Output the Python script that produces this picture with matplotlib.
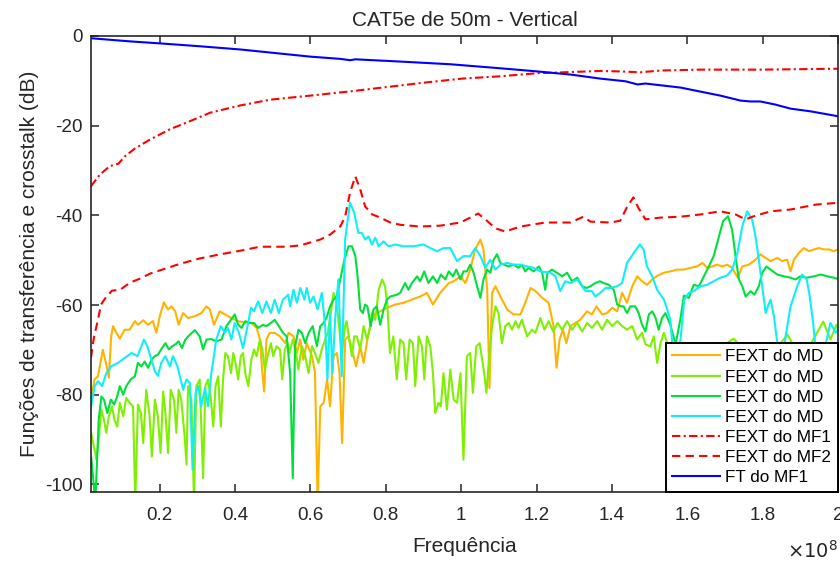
"""
Funcoes de transferencia e crosstalk - CAT5e de 50m (Vertical)
"""

import matplotlib.pyplot as plt
from matplotlib.ticker import FuncFormatter, MultipleLocator

#---------------------------------------------------------------------------------------------------
# Data (frequency in MHz, magnitude in dB)
#---------------------------------------------------------------------------------------------------

# FT do MF1 (blue)
f_ft_mf1 = [1.75, 12.1, 20.1, 30.8, 41.3, 54.1, 59.9, 67.9, 70.5, 71.9, 83.8, 97.1, 110.4, 120.2,
            129.0, 136.9, 143.6, 146.8, 148.9, 158.2, 163.5, 168.8, 174.1, 176.8, 179.4, 183.4,
            187.4, 192.7, 200.0]
ft_mf1 = [-0.5, -1.2, -1.65, -2.3, -3.0, -4.1, -4.6, -5.1, -5.4, -5.2, -5.7, -6.3, -7.2, -7.9,
          -8.6, -9.5, -10.1, -10.8, -10.6, -11.5, -12.4, -13.3, -14.4, -14.6, -14.6, -15.3,
          -16.2, -16.8, -17.9]

# FEXT do MF1 (red dash-dot)
f_fext_mf1 = [1.75, 4.1, 6.8, 9.0, 10.8, 13.4, 17.4, 22.7, 28.0, 33.4, 41.3, 49.3, 59.9, 70.0,
              80.1, 90.2, 100.3, 110.1, 120.2, 130.3, 136.9, 142.2, 147.5, 152.9, 163.5, 179.4,
              190.0, 200.0]
fext_mf1 = [-33.5, -30.9, -29.0, -28.5, -26.8, -25.1, -23.1, -20.8, -19.0, -17.1, -15.5, -14.2,
            -13.3, -12.4, -11.4, -10.4, -9.5, -9.0, -8.3, -8.0, -7.8, -7.9, -8.1, -7.7, -7.5,
            -7.5, -7.4, -7.3]

# FEXT do MF2 (red dashed)
f_fext_mf2 = [1.75, 2.55, 3.6, 4.4, 5.7, 7.3, 9.5, 12.1, 14.8, 17.4, 21.4, 25.4, 30.7, 36.0,
              41.3, 46.6, 53.8, 57.3, 62.6, 65.2, 67.9, 69.2, 70.5, 71.9, 73.2, 74.5, 76.4, 78.5,
              81.2, 83.8, 89.1, 94.4, 99.8, 102.4, 104.5, 106.4, 109.1, 111.7, 115.7, 122.3,
              129.0, 132.4, 134.3, 139.6, 142.2, 144.1, 145.7, 147.0, 148.9, 152.9, 158.2,
              163.5, 168.8, 172.8, 175.5, 177.3, 182.1, 187.4, 194.1, 200.0]
fext_mf2 = [-71.7, -67.1, -63.3, -59.9, -58.3, -56.8, -56.6, -55.0, -54.1, -53.0, -51.9, -50.8,
            -49.6, -48.7, -47.9, -47.0, -47.0, -46.7, -45.4, -44.3, -42.5, -40.3, -34.9, -31.3,
            -34.2, -38.0, -39.8, -40.5, -41.6, -42.1, -42.5, -42.3, -41.6, -40.5, -39.6, -40.9,
            -42.9, -43.6, -42.5, -41.6, -41.6, -40.3, -41.4, -41.6, -41.2, -38.0, -36.0, -38.3,
            -40.9, -40.5, -40.3, -39.8, -39.1, -39.8, -40.9, -40.3, -39.1, -38.7, -37.6, -37.2]

# FEXT do MD #1 (orange)
f_md1 = [1.8, 2.7, 3.6, 4.9, 5.7, 6.5, 7.1, 7.6, 8.5, 9.4, 10.7, 12.0, 13.4, 14.2, 15.6, 16.9,
         18.2, 19.1, 20.0, 21.1, 22.2, 23.1, 24.1, 25.0, 26.2, 27.5, 29.3, 31.0, 32.4, 33.3,
         34.4, 35.9, 37.3, 39.0, 40.8, 42.6, 44.3, 45.7, 46.6, 47.2, 47.7, 48.3, 49.2, 50.5,
         51.9, 53.3, 54.2, 55.5, 56.4, 57.3, 58.1, 59.0, 60.4, 61.2, 61.9, 62.6, 63.5, 64.4,
         65.2, 66.1, 67.0, 67.7, 68.4, 69.2, 70.1, 71.0, 72.1, 73.2, 74.1, 75.1, 76.0, 77.2,
         78.5, 80.3, 82.5, 84.7, 86.9, 89.1, 90.9, 92.5, 94.4, 96.7, 98.0, 99.8, 101.1, 102.4,
         103.7, 105.1, 105.9, 106.9, 107.5, 108.2, 109.1, 110.4, 112.2, 113.9, 115.7, 117.0,
         118.4, 119.7, 121.5, 123.2, 124.5, 125.3, 126.1, 127.0, 127.9, 129.0, 130.3, 131.6,
         133.4, 134.7, 135.9, 137.4, 138.7, 140.1, 141.4, 142.7, 144.0, 145.4, 146.7, 148.0,
         149.3, 150.7, 152.0, 153.8, 155.5, 157.3, 159.1, 160.9, 162.6, 164.0, 165.3, 166.6,
         167.9, 169.3, 170.6, 171.9, 173.4, 174.6, 176.3, 178.1, 179.4, 180.8, 182.1, 183.9,
         185.2, 186.5, 187.4, 188.3, 189.6, 190.9, 192.3, 193.6, 194.9, 196.3, 197.6, 198.9,
         200.0]
fext_md1 = [-80.4, -76.6, -75.9, -70.0, -72.9, -76.2, -67.0, -64.7, -66.2, -67.5, -65.5, -65.5,
            -63.6, -64.4, -63.4, -64.4, -63.6, -66.2, -62.5, -59.4, -61.0, -60.3, -61.4, -64.4,
            -61.8, -62.9, -62.5, -61.8, -60.3, -61.0, -64.4, -61.4, -62.1, -62.9, -63.6, -63.9,
            -64.0, -65.1, -67.7, -74.8, -79.3, -67.7, -66.2, -66.2, -67.0, -68.5, -66.2, -67.0,
            -70.7, -67.7, -72.2, -68.5, -71.4, -75.1, -104.0, -82.6, -81.8, -76.6, -82.6, -71.4,
            -70.7, -75.1, -90.8, -67.7, -67.0, -69.9, -73.7, -69.2, -72.9, -67.7, -64.0, -61.8,
            -61.4, -60.6, -59.9, -59.5, -58.8, -58.1, -57.3, -59.9, -57.3, -55.1, -54.7, -53.6,
            -55.1, -52.1, -47.6, -45.4, -47.6, -56.6, -78.5, -57.3, -55.8, -58.1, -61.0, -62.1,
            -62.1, -59.5, -56.2, -56.9, -58.4, -59.5, -64.7, -74.0, -67.7, -65.5, -68.5, -64.7,
            -64.0, -63.3, -61.4, -62.1, -60.3, -62.1, -61.8, -60.6, -61.4, -57.3, -59.5, -55.8,
            -53.6, -54.7, -55.5, -54.3, -53.5, -52.8, -52.5, -52.1, -52.1, -51.7, -51.4, -50.6,
            -51.7, -51.4, -51.0, -51.4, -51.0, -51.7, -53.9, -51.4, -51.0, -49.9, -48.7, -49.5,
            -50.2, -49.5, -50.2, -49.9, -52.5, -49.9, -48.4, -47.3, -48.0, -47.6, -47.3, -47.6,
            -47.6, -48.0, -47.6]

# FEXT do MD #2 (lime)
f_md2 = [1.8, 2.5, 3.2, 3.8, 4.5, 5.2, 5.8, 6.5, 7.3, 8.0, 8.7, 9.4, 10.3, 11.1, 12.0, 12.9,
         13.5, 14.2, 15.0, 15.6, 16.4, 17.3, 17.9, 18.7, 19.5, 20.2, 20.9, 21.5, 22.2, 22.9,
         23.8, 24.4, 25.0, 25.7, 26.6, 27.1, 27.5, 28.4, 29.1, 29.7, 30.6, 31.5, 32.1, 32.8,
         33.5, 34.2, 34.8, 35.5, 36.2, 36.8, 37.4, 38.1, 38.9, 39.5, 40.1, 40.8, 41.5, 42.1,
         42.7, 43.5, 44.3, 45.0, 45.7, 46.6, 47.2, 47.9, 48.8, 49.5, 50.1, 51.0, 51.9, 52.5,
         53.2, 53.9, 54.4, 55.3, 56.2, 56.8, 57.7, 58.6, 59.5, 60.4, 61.2, 62.1, 63.0, 63.9,
         64.6, 65.4, 66.1, 66.8, 67.4, 68.3, 69.2, 69.6, 70.3, 71.0, 71.6, 72.3, 73.2, 74.1,
         75.0, 75.7, 76.3, 77.2, 78.1, 79.0, 79.8, 80.4, 81.1, 82.0, 82.9, 83.8, 84.7, 85.4,
         86.3, 87.2, 87.8, 88.7, 89.6, 90.2, 90.9, 91.8, 92.5, 93.1, 94.0, 94.6, 95.3, 96.2,
         97.1, 98.0, 98.9, 99.8, 100.6, 101.5, 102.4, 103.1, 104.0, 104.9, 106.1, 106.7, 107.5,
         108.2, 109.1, 109.9, 110.8, 111.7, 112.6, 113.5, 114.4, 115.2, 116.1, 117.5, 118.8,
         119.7, 121.0, 122.1, 123.2, 124.4, 125.6, 126.8, 128.1, 129.4, 130.8, 132.1, 133.4,
         134.7, 136.1, 137.4, 138.7, 140.1, 141.4, 142.7, 144.0, 145.4, 146.7, 148.0, 148.9,
         150.2, 151.1, 152.0, 152.9, 153.8, 154.7, 156.9, 160.9, 164.9, 168.8, 172.3, 175.5,
         179.4, 183.4, 186.6, 189.6, 192.7, 196.1, 198.0, 199.6, 200.0]
fext_md2 = [-88.5, -91.5, -94.5, -90.0, -83.3, -85.6, -88.5, -84.8, -82.6, -85.6, -87.1, -81.8,
            -84.8, -80.7, -81.8, -82.6, -104.0, -82.2, -84.1, -90.8, -78.9, -84.8, -93.8, -81.1,
            -84.8, -93.0, -79.3, -84.1, -93.0, -78.9, -81.1, -88.5, -78.9, -81.1, -89.3, -95.6,
            -78.1, -81.1, -104.0, -78.1, -76.6, -98.6, -78.1, -76.6, -80.4, -87.1, -78.1, -75.9,
            -87.1, -76.6, -70.7, -71.4, -75.2, -70.7, -72.9, -76.6, -71.4, -70.7, -75.2, -78.1,
            -72.2, -69.9, -71.4, -67.7, -69.9, -74.4, -70.7, -68.5, -71.4, -69.2, -69.9, -76.6,
            -69.9, -68.5, -70.7, -67.7, -70.7, -74.4, -69.2, -71.4, -75.2, -69.2, -70.7, -72.9,
            -69.9, -67.7, -66.2, -61.8, -57.3, -58.8, -63.3, -70.7, -64.7, -63.6, -67.7, -71.4,
            -67.0, -67.0, -69.9, -64.7, -67.7, -65.5, -61.8, -63.3, -56.6, -54.3, -55.8, -60.3,
            -70.7, -67.0, -76.6, -67.7, -68.5, -76.6, -67.7, -68.5, -78.1, -67.0, -69.2, -76.6,
            -67.0, -69.2, -75.2, -84.1, -81.8, -82.6, -75.2, -83.3, -74.4, -81.1, -81.8, -75.2,
            -94.5, -71.4, -70.7, -79.6, -69.2, -68.5, -75.2, -79.6, -70.7, -64.7, -60.3, -61.8,
            -68.5, -64.7, -64.0, -65.5, -63.6, -65.1, -63.3, -67.0, -65.5, -66.2, -62.9, -65.5,
            -63.6, -65.9, -64.0, -65.5, -63.6, -65.5, -64.0, -65.9, -64.0, -65.1, -63.6, -65.5,
            -63.3, -64.7, -63.6, -64.7, -65.5, -64.7, -67.7, -66.2, -68.8, -69.2, -67.0, -72.9,
            -68.5, -66.2, -68.5, -72.2, -71.1, -70.0, -69.5, -67.5, -70.4, -71.1, -70.0, -66.6,
            -71.1, -68.8, -63.7, -67.7, -64.4, -65.5]

# FEXT do MD #3 (green)
f_md3 = [1.8, 2.9, 3.8, 4.5, 5.2, 6.1, 7.0, 7.9, 8.7, 9.4, 10.3, 11.1, 12.3, 13.4, 14.2, 15.1,
         16.0, 16.9, 17.8, 18.7, 19.5, 20.6, 21.5, 22.4, 23.3, 24.1, 25.0, 25.9, 26.8, 28.0,
         29.3, 30.6, 31.5, 32.4, 33.7, 35.0, 36.4, 37.7, 38.9, 39.9, 40.8, 41.7, 42.7, 43.9,
         45.0, 46.1, 47.4, 48.3, 49.5, 50.5, 51.6, 52.7, 53.7, 54.6, 55.3, 55.9, 56.8, 57.7,
         58.6, 59.5, 60.6, 61.7, 62.6, 63.5, 64.4, 65.2, 66.1, 67.0, 67.9, 69.0, 70.1, 71.0,
         71.9, 72.5, 73.2, 73.9, 74.5, 75.1, 76.0, 76.7, 77.6, 78.5, 79.4, 80.3, 81.2, 82.9,
         83.8, 85.1, 86.0, 86.9, 88.3, 89.1, 90.2, 91.3, 92.5, 93.6, 94.6, 95.8, 96.7, 97.8,
         98.7, 99.8, 100.6, 101.5, 102.4, 103.3, 104.2, 105.1, 105.9, 106.9, 107.7, 108.6,
         109.5, 110.4, 111.3, 112.6, 113.9, 115.2, 116.1, 117.0, 117.9, 119.2, 120.6, 121.5,
         122.3, 122.9, 124.1, 125.4, 126.8, 128.1, 129.4, 130.8, 132.1, 133.2, 134.3, 135.6,
         136.8, 137.8, 139.2, 140.5, 141.4, 142.3, 143.1, 144.0, 144.9, 146.2, 147.1, 148.0,
         148.9, 149.8, 150.7, 151.6, 152.4, 153.3, 154.2, 155.5, 156.9, 158.2, 159.1, 160.4,
         161.7, 163.1, 164.4, 165.7, 167.0, 168.4, 169.5, 170.8, 171.9, 172.8, 173.7, 174.6,
         175.5, 176.8, 177.8, 179.0, 179.9, 181.0, 182.1, 183.9, 185.6, 187.4, 188.7, 190.0,
         191.8, 193.6, 195.4, 197.2, 198.9, 200.0]
fext_md3 = [-93.8, -104.0, -85.6, -80.4, -81.1, -84.1, -81.1, -82.2, -80.4, -78.1, -80.0, -78.1,
            -76.6, -75.9, -72.9, -73.7, -72.6, -74.0, -72.2, -71.4, -71.1, -69.6, -68.5, -69.9,
            -69.2, -68.8, -68.1, -69.6, -67.7, -66.6, -65.6, -67.0, -69.9, -67.7, -67.6, -68.1,
            -67.7, -64.7, -63.3, -62.1, -64.4, -65.1, -63.6, -64.0, -64.0, -65.1, -64.4, -64.7,
            -64.0, -63.3, -64.7, -66.2, -67.0, -75.2, -98.6, -69.2, -65.5, -66.2, -68.5, -66.2,
            -64.7, -69.2, -64.7, -64.0, -62.5, -60.3, -58.8, -58.1, -54.3, -49.9, -46.9, -46.9,
            -49.1, -53.6, -61.0, -61.8, -59.9, -60.3, -64.7, -61.0, -60.3, -64.4, -61.0, -58.8,
            -58.1, -57.7, -57.3, -55.1, -56.6, -55.1, -53.6, -54.7, -52.5, -55.1, -53.6, -55.1,
            -53.2, -54.3, -52.5, -53.6, -52.1, -54.3, -52.5, -52.5, -51.0, -52.8, -55.8, -58.4,
            -54.3, -52.1, -52.8, -49.9, -48.7, -50.6, -51.0, -51.4, -51.0, -51.7, -51.0, -52.5,
            -51.7, -52.5, -51.4, -52.8, -56.6, -52.8, -52.1, -52.8, -53.6, -52.8, -54.7, -53.9,
            -55.8, -56.2, -55.8, -55.1, -54.7, -55.1, -55.5, -56.6, -59.9, -60.3, -60.3, -61.8,
            -60.3, -60.3, -61.8, -64.4, -65.9, -62.1, -61.4, -62.9, -65.5, -62.9, -61.8, -64.4,
            -68.8, -63.0, -57.9, -58.4, -55.5, -55.8, -53.6, -51.4, -49.1, -44.7, -41.3, -40.2,
            -43.2, -49.1, -54.3, -55.8, -58.1, -56.9, -57.7, -55.8, -52.8, -51.4, -52.1, -53.2,
            -53.6, -53.9, -54.3, -53.6, -53.9, -53.6, -53.2, -53.6, -53.9, -54.2]

# FEXT do MD #4 (cyan)
f_md4 = [1.8, 2.7, 3.6, 4.7, 5.8, 7.1, 8.9, 10.7, 12.5, 14.1, 15.1, 15.8, 16.7, 17.8, 18.7,
         19.5, 20.4, 21.5, 22.7, 23.5, 24.7, 26.2, 27.1, 28.0, 28.7, 29.5, 30.2, 31.0, 32.0,
         32.8, 33.7, 35.0, 36.2, 37.3, 38.1, 39.0, 39.9, 41.0, 42.1, 43.3, 44.2, 45.0, 46.1,
         47.2, 48.3, 49.5, 50.5, 51.6, 52.7, 54.1, 54.6, 55.5, 56.4, 57.3, 58.4, 59.0, 59.9,
         60.8, 61.9, 63.0, 63.9, 64.5, 65.2, 65.8, 66.6, 67.4, 68.3, 69.2, 70.5, 71.6, 72.7,
         73.6, 74.5, 75.4, 76.3, 77.2, 78.1, 79.4, 80.7, 82.5, 84.7, 87.4, 90.0, 91.8, 93.6,
         95.3, 97.1, 98.9, 100.6, 102.4, 103.7, 105.1, 106.4, 107.7, 109.1, 110.4, 112.2,
         113.9, 115.7, 117.5, 119.2, 121.0, 123.7, 125.0, 126.3, 127.6, 129.0, 130.8, 133.0,
         134.7, 135.6, 136.9, 138.3, 139.6, 141.4, 142.7, 144.0, 145.8, 147.4, 148.4, 149.3,
         150.7, 152.0, 153.8, 154.7, 155.5, 156.0, 157.2, 159.2, 160.4, 161.7, 163.5, 165.3,
         167.0, 168.8, 170.6, 171.9, 173.3, 174.6, 175.9, 177.2, 178.1, 179.0, 179.9, 180.8,
         181.4, 182.1, 183.0, 183.9, 185.0, 186.1, 187.4, 189.2, 190.5, 191.7, 192.5, 193.4,
         194.0, 195.4, 197.0, 198.0, 199.4, 200.0]
fext_md4 = [-82.6, -78.1, -77.0, -78.1, -75.2, -73.7, -72.9, -71.8, -70.7, -71.4, -69.2, -67.7,
            -69.2, -72.2, -74.8, -75.8, -72.9, -71.4, -73.7, -71.4, -73.7, -78.9, -76.6, -77.4,
            -96.7, -79.6, -78.1, -82.6, -78.5, -82.6, -75.2, -67.7, -64.7, -66.2, -65.1, -67.7,
            -64.0, -66.2, -69.6, -64.7, -60.6, -61.4, -59.2, -61.8, -59.2, -61.8, -58.8, -61.8,
            -58.8, -57.7, -60.3, -56.6, -59.5, -56.2, -58.8, -56.2, -59.5, -58.1, -61.0, -57.3,
            -64.7, -76.6, -61.8, -75.2, -62.5, -54.3, -75.9, -45.4, -37.2, -39.4, -43.9, -43.9,
            -45.4, -44.7, -46.5, -45.0, -46.9, -45.8, -46.9, -46.5, -46.9, -46.9, -46.5, -47.3,
            -48.0, -47.3, -47.3, -50.2, -49.1, -49.1, -47.3, -49.1, -51.7, -49.9, -52.1, -51.0,
            -50.6, -51.0, -51.0, -51.4, -51.7, -52.5, -52.8, -53.6, -56.9, -54.7, -55.1, -54.3,
            -56.9, -56.9, -58.1, -57.3, -56.2, -56.2, -55.8, -55.1, -50.6, -48.4, -46.5, -47.6,
            -51.4, -53.6, -56.6, -58.8, -61.0, -63.3, -68.5, -76.7, -58.8, -57.3, -56.9, -55.8,
            -55.5, -54.7, -53.9, -53.4, -52.1, -48.4, -42.4, -39.1, -40.9, -44.7, -49.9, -55.8,
            -61.8, -60.3, -58.8, -62.5, -68.5, -74.5, -67.0, -60.3, -55.8, -53.2, -54.3, -58.1,
            -64.0, -69.2, -74.5, -67.7, -64.0, -66.2, -65.5]

labels = ['FEXT do MD', 'FEXT do MD', 'FEXT do MD', 'FEXT do MD',
          'FEXT do MF1', 'FEXT do MF2', 'FT do MF1']


#---------------------------------------------------------------------------------------------------
# Plot
#---------------------------------------------------------------------------------------------------

plt.rcParams['font.family'] = ['Liberation Sans', 'DejaVu Sans']
plt.rcParams['axes.unicode_minus'] = False

txt_c = '#262626'
mhz = 1e6

fig = plt.figure(figsize=(8.4, 5.62), dpi=100)
ax = fig.add_axes([91/840, 1 - 492/562, (838 - 91)/840, (492 - 36)/562])

lw = 1.5
ax.plot([f*mhz for f in f_md1], fext_md1, color='#FFB300', lw=lw, label=labels[0])
ax.plot([f*mhz for f in f_md2], fext_md2, color='#7FF000', lw=lw, label=labels[1])
ax.plot([f*mhz for f in f_md3], fext_md3, color='#00E03C', lw=lw, label=labels[2])
ax.plot([f*mhz for f in f_md4], fext_md4, color='#10EEF8', lw=lw, label=labels[3])
ax.plot([f*mhz for f in f_fext_mf1], fext_mf1, color='#FF0000', lw=lw, dashes=[4, 1.6, 1, 1.6],
        label=labels[4])
ax.plot([f*mhz for f in f_fext_mf2], fext_mf2, color='#FF0000', lw=lw, dashes=[4, 2.5],
        label=labels[5])
ax.plot([f*mhz for f in f_ft_mf1], ft_mf1, color='#0000FF', lw=lw, label=labels[6])

ax.set_xlim(1.75e6, 2e8)
ax.set_ylim(-101.7, 0)
ax.xaxis.set_major_locator(MultipleLocator(0.2e8))
ax.xaxis.set_major_formatter(FuncFormatter(lambda x, p: '%g' % round(x/1e8, 2)))
ax.yaxis.set_major_locator(MultipleLocator(20))

for sp in ax.spines.values():
    sp.set_color(txt_c)
    sp.set_linewidth(1.2)
ax.tick_params(direction='in', length=5.5, width=1.1, color=txt_c, labelcolor=txt_c,
               labelsize=13.6, top=True, right=True)
ax.tick_params(axis='x', pad=11)
ax.tick_params(axis='y', pad=6)

ax.set_title('CAT5e de 50m - Vertical', fontsize=15, color=txt_c, pad=7)
ax.set_xlabel('Frequência', fontsize=15, color=txt_c, labelpad=9)
ax.set_ylabel('Funções de transferência e crosstalk (dB)', fontsize=15, color=txt_c, labelpad=4)
fig.text(838/840, 1 - 551/562, r'$\times10^{8}$', ha='right', va='center', fontsize=14,
         color=txt_c, math_fontfamily='dejavusans')

leg = ax.legend(loc='lower right', borderaxespad=0, fontsize=12.3, fancybox=False,
                framealpha=1, edgecolor='k', handlelength=2.8, handletextpad=0.3,
                labelspacing=0.3, borderpad=0.4)
leg.get_frame().set_linewidth(1.4)
for t in leg.get_texts():
    t.set_color('k')

plt.savefig('out.png', dpi=100)
